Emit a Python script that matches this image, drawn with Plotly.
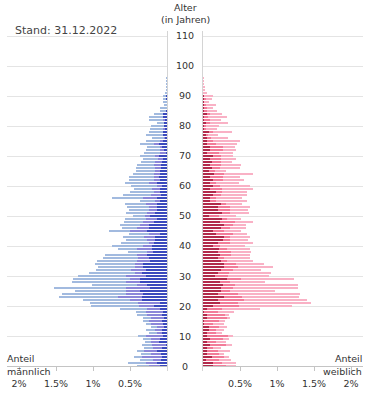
import plotly.graph_objects as go

ages = list(range(0, 97))
age_ticks = list(range(0, 111, 10))
x_tickvals = [0.5, 1, 1.5, 2]
x_ticktext = ["0.5%", "1%", "1.5%", "2%"]

# Anteil in % je Altersjahr (männlich), drei Gruppen von innen nach außen
m_dark = [0.09,0.14,0.08,0.07,0.08,0.14,0.07,0.02,0.11,0.09, 0.05,0.07,0.07,0.04,0.05,0.07,0.04,0.07,0.05,0.09,
          0.17,0.10,0.34,0.34,0.32,0.36,0.23,0.27,0.36,0.36, 0.28,0.34,0.29,0.32,0.32,0.23,0.25,0.27,0.19,0.20,
          0.20,0.18,0.16,0.16,0.10,0.27,0.24,0.24,0.18,0.14, 0.23,0.16,0.14,0.14,0.14,0.09,0.14,0.08,0.10,0.10,
          0.07,0.14,0.09,0.11,0.09,0.10,0.08,0.08,0.07,0.05, 0.11,0.02,0.04,0.07,0.11,0.06,0.03,0.06,0.06,0.04,
          0.04,0.04,0.04,0.05,0.05,0.01,0,0,0,0.02, 0.02,0,0,0,0,0,0]
m_med = [0.16,0.14,0.11,0.27,0.13,0.17,0.12,0.18,0.11,0.13, 0.23,0.07,0.09,0.10,0.16,0.18,0.17,0.20,0.23,0.18,
         0.21,0.29,0.16,0.32,0.23,0.19,0.32,0.14,0.20,0.14, 0.27,0.09,0.20,0.11,0.11,0.18,0.14,0.14,0.08,0.20,
         0.12,0.07,0.11,0.15,0.15,0.23,0.17,0.12,0.14,0.14, 0.07,0.11,0.11,0.11,0.14,0.07,0.18,0.13,0.08,0.10,
         0.07,0.10,0.09,0.07,0.09,0.06,0.08,0.10,0.09,0.07, 0.05,0.07,0.05,0.02,0.07,0.03,0.01,0,0,0.02,
         0,0,0.02,0,0,0,0,0,0,0, 0,0,0,0,0,0,0]
m_light = [0.16,0.25,0.18,0.10,0.14,0.09,0.12,0.14,0.08,0.11, 0.11,0.11,0.12,0.08,0.08,0.07,0.11,0.13,0.14,0.36,
           0.65,0.65,0.64,0.80,0.87,0.70,0.98,0.60,0.72,0.77, 0.65,0.63,0.47,0.50,0.54,0.54,0.47,0.43,0.26,0.26,
           0.43,0.37,0.29,0.28,0.27,0.28,0.20,0.27,0.26,0.29, 0.16,0.29,0.27,0.29,0.29,0.20,0.42,0.38,0.32,0.25,
           0.35,0.33,0.34,0.34,0.28,0.26,0.26,0.23,0.19,0.21, 0.20,0.22,0.20,0.18,0.18,0.20,0.16,0.22,0.18,0.17,
           0.17,0.10,0.18,0.19,0.13,0.08,0.09,0.04,0.05,0.04, 0.03,0.03,0.01,0.01,0.01,0.01,0.01]

# Anteil in % je Altersjahr (weiblich)
f_dark = [0.13,0.14,0.04,0.12,0.06,0.06,0.06,0.09,0.06,0.09, 0.06,0.06,0.08,0.08,0.02,0.02,0.06,0.06,0.01,0.06,
          0.13,0.23,0.20,0.29,0.20,0.24,0.24,0.27,0.23,0.33, 0.16,0.20,0.24,0.28,0.28,0.24,0.20,0.23,0.20,0.21,
          0.14,0.20,0.27,0.28,0.17,0.14,0.24,0.28,0.23,0.25, 0.08,0.25,0.20,0.20,0.24,0.09,0.09,0.14,0.17,0.09,
          0.14,0.09,0.13,0.09,0.15,0.08,0.12,0.09,0.12,0.10, 0.14,0.06,0.09,0.10,0.06,0.06,0.05,0.04,0.08,0.02,
          0.02,0.04,0.02,0.02,0.05,0.02,0.02,0.02,0.02,0.01, 0.01,0,0,0,0,0,0]
f_med = [0.18,0.11,0.18,0.16,0.15,0.14,0.07,0.22,0.11,0.18, 0.28,0.11,0.09,0.14,0.12,0.20,0.26,0.24,0.19,0.20,
         0.35,0.24,0.35,0.24,0.27,0.12,0.16,0.16,0.14,0.18, 0.18,0.15,0.16,0.19,0.16,0.08,0.09,0.15,0.18,0.11,
         0.09,0.17,0.10,0.09,0.24,0.14,0.12,0.12,0.20,0.08, 0.14,0.11,0.17,0.16,0.07,0.08,0.09,0.10,0.08,0.16,
         0.09,0.08,0.14,0.18,0.13,0.08,0.11,0.15,0.12,0.14, 0.10,0.16,0.18,0.17,0.12,0.07,0.06,0.03,0.05,0.02,
         0.02,0.06,0.08,0.05,0.04,0.03,0.03,0.02,0,0.03, 0,0,0,0,0,0,0]
f_light = [0.14,0.20,0.16,0.07,0.07,0.16,0.11,0.08,0.14,0.08, 0.07,0.09,0.11,0.11,0.14,0.08,0.04,0.05,0.22,0.51,
           0.72,0.99,0.86,0.77,0.84,0.61,0.88,0.85,0.47,0.72, 0.55,0.57,0.39,0.47,0.39,0.35,0.34,0.26,0.27,0.32,
           0.34,0.30,0.24,0.27,0.19,0.23,0.22,0.18,0.24,0.18, 0.23,0.26,0.24,0.28,0.22,0.43,0.35,0.36,0.35,0.42,
           0.41,0.32,0.29,0.23,0.39,0.15,0.27,0.28,0.15,0.20, 0.16,0.19,0.18,0.16,0.28,0.37,0.23,0.13,0.26,0.15,
           0.18,0.24,0.14,0.25,0.16,0.14,0.09,0.14,0.06,0.08, 0.12,0.06,0.02,0.02,0.01,0.01,0.01]

male_colors = ["#3a49bd", "#8b86d9", "#a2badf"]
female_colors = ["#b12a4b", "#f27b99", "#f9b1c5"]

W, H = 375, 416
def px_x(x):
    return x / W
def px_y(y):
    return (H - y) / H

# exactly 3 px per year, age 0 centred at y = 366 px
PLOT_TOP, PLOT_BOTTOM, AGE0 = 31, 371, 366
Y_MIN = (AGE0 - PLOT_BOTTOM) / 3.0
Y_MAX = (AGE0 - PLOT_TOP) / 3.0
y_dom = [px_y(PLOT_BOTTOM), px_y(PLOT_TOP)]
axis_pos = px_y(AGE0)

PX_PER_PCT = 74.0
L_LEFT, L_ZERO = 7, 167
R_ZERO, R_RIGHT = 203, 363

fig = go.Figure()
for vals, col in zip([m_dark, m_med, m_light], male_colors):
    fig.add_trace(go.Bar(x=vals, y=ages, orientation="h", marker=dict(color=col, line=dict(width=0)),
                         xaxis="x", yaxis="y", showlegend=False, hoverinfo="x+y"))
for vals, col in zip([f_dark, f_med, f_light], female_colors):
    fig.add_trace(go.Bar(x=vals, y=ages, orientation="h", marker=dict(color=col, line=dict(width=0)),
                         xaxis="x2", yaxis="y2", showlegend=False, hoverinfo="x+y"))

font_family = "DejaVu Sans, Verdana, sans-serif"
txt_color = "#333333"
tickfont = dict(family=font_family, size=9.5, color=txt_color)

xcommon = dict(anchor="free", position=axis_pos, showgrid=False, zeroline=False,
               showline=True, linecolor="#c4c4c4", linewidth=1,
               ticks="outside", ticklen=4, tickcolor="#c4c4c4",
               tickvals=x_tickvals, ticktext=x_ticktext, tickfont=tickfont,
               ticklabelstandoff=5, fixedrange=True)
ycommon = dict(range=[Y_MIN, Y_MAX], domain=y_dom, tickvals=age_ticks, showticklabels=False,
               showgrid=True, gridcolor="#e4e4e4", gridwidth=1, zeroline=False,
               showline=True, linecolor="#d4d4d4", linewidth=1, ticks="", fixedrange=True)

fig.update_layout(
    width=W, height=H, margin=dict(l=0, r=0, t=0, b=0, pad=0),
    paper_bgcolor="white", plot_bgcolor="white",
    barmode="stack", bargap=1.0 / 3.0,
    font=dict(family=font_family, size=9.5, color=txt_color),
    xaxis=dict(domain=[px_x(L_LEFT), px_x(L_ZERO)], range=[(L_ZERO - L_LEFT) / PX_PER_PCT, 0], **xcommon),
    xaxis2=dict(domain=[px_x(R_ZERO), px_x(R_RIGHT)], range=[0, (R_RIGHT - R_ZERO) / PX_PER_PCT], **xcommon),
    yaxis=dict(anchor="x", side="right", **ycommon),
    yaxis2=dict(anchor="x2", side="left", **ycommon),
)

def note(x, y, text, xanchor="center", size=9.5, color=txt_color, yref="paper"):
    return dict(x=x, y=y, xref="paper", yref=yref, text=text, showarrow=False,
                xanchor=xanchor, yanchor="middle", font=dict(family=font_family, size=size, color=color))

annotations = [note(px_x(185), a, str(a), yref="y") for a in age_ticks]
annotations += [
    note(px_x(185), px_y(7), "Alter"),
    note(px_x(185), px_y(19.5), "(in Jahren)"),
    note(px_x(13), px_y(31), "Stand: 31.12.2022", xanchor="left", size=11, color="#444444"),
    note(px_x(5), px_y(358), "Anteil", xanchor="left"),
    note(px_x(5), px_y(371.5), "männlich", xanchor="left"),
    note(px_x(364), px_y(358), "Anteil", xanchor="right"),
    note(px_x(364), px_y(371.5), "weiblich", xanchor="right"),
]
fig.update_layout(annotations=annotations)

fig.write_html("out.html", config={"displayModeBar": False, "staticPlot": False},
               post_script="document.body.style.margin='0';")
